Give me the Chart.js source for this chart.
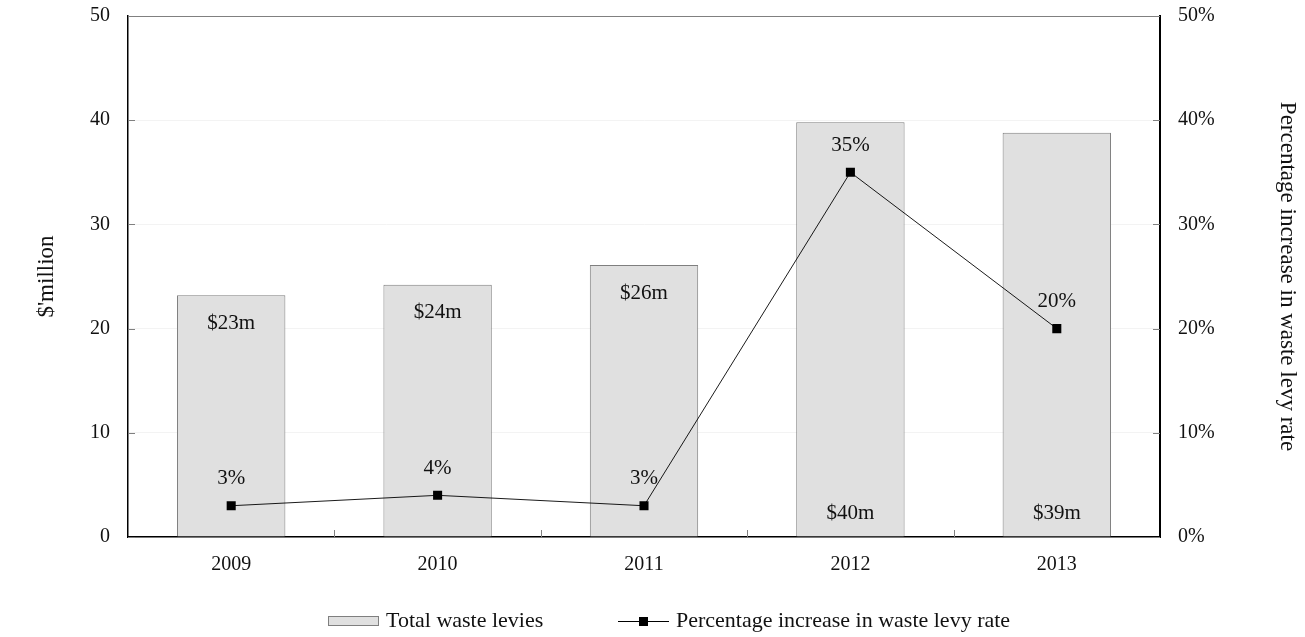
<!DOCTYPE html>
<html>
<head>
<meta charset="utf-8">
<script src="https://cdn.jsdelivr.net/npm/chart.js@4.4.0/dist/chart.umd.min.js"></script>
<style>
  html, body { margin: 0; padding: 0; background: #fff; }
  #wrap { width: 1305px; height: 637px; }
</style>
</head>
<body>
<div id="wrap"><canvas id="chart"></canvas></div>
<script>
// data
const years = ['2009', '2010', '2011', '2012', '2013'];
const wasteLevies = [23.2, 24.2, 26.1, 39.8, 38.8];      // $ million
const levyLabels = ['$23m', '$24m', '$26m', '$40m', '$39m'];
const rateIncrease = [3, 4, 3, 35, 20];                 // percent
const rateLabels = ['3%', '4%', '3%', '35%', '20%'];
const leftTicks = [0, 10, 20, 30, 40, 50];
const rightTicks = [0, 10, 20, 30, 40, 50];

// bar labels sit at the base where the line point would collide with them
const levyLabelAtBase = [false, false, false, true, true];

const FONT = '"Liberation Serif", "Times New Roman", serif';
const TICK_SIZE = 20;
const LABEL_SIZE = 21;
const LEGEND_SIZE = 22;
const TITLE_SIZE = 23;

// draws value labels, inward ticks, top border and the legend
const extrasPlugin = {
  id: 'extras',
  afterDatasetsDraw(chart) {
    const ctx = chart.ctx;
    const area = chart.chartArea;
    const yL = chart.scales.y;
    const yR = chart.scales.y2;
    const x = chart.scales.x;

    ctx.save();
    ctx.font = LABEL_SIZE + 'px ' + FONT;
    ctx.fillStyle = '#111';
    ctx.textAlign = 'center';
    ctx.textBaseline = 'middle';

    // bar labels
    chart.getDatasetMeta(0).data.forEach((bar, i) => {
      const y = levyLabelAtBase[i] ? yL.getPixelForValue(0) - 24 : bar.y + 28;
      ctx.fillText(levyLabels[i], bar.x, y);
    });
    // line labels
    chart.getDatasetMeta(1).data.forEach((pt, i) => {
      ctx.fillText(rateLabels[i], pt.x, pt.y - 27);
    });

    // inward tick marks
    ctx.strokeStyle = '#808080';
    ctx.lineWidth = 1;
    ctx.beginPath();
    leftTicks.forEach(v => {
      const py = Math.round(yL.getPixelForValue(v)) + 0.5;
      ctx.moveTo(area.left, py); ctx.lineTo(area.left + 7, py);
    });
    rightTicks.forEach(v => {
      const py = Math.round(yR.getPixelForValue(v)) + 0.5;
      ctx.moveTo(area.right - 7, py); ctx.lineTo(area.right, py);
    });
    for (let i = 1; i < years.length; i++) {
      const px = Math.round((x.getPixelForValue(i - 1) + x.getPixelForValue(i)) / 2) + 0.5;
      ctx.moveTo(px, area.bottom); ctx.lineTo(px, area.bottom - 7);
    }
    ctx.stroke();

    // top border
    ctx.beginPath();
    ctx.moveTo(area.left, area.top + 0.5);
    ctx.lineTo(area.right, area.top + 0.5);
    ctx.stroke();
    ctx.restore();
  },
  afterDraw(chart) {
    const ctx = chart.ctx;
    const ly = 621;
    ctx.save();
    ctx.font = LEGEND_SIZE + 'px ' + FONT;
    ctx.textBaseline = 'middle';
    ctx.textAlign = 'left';

    // bar entry
    let lx = 328;
    ctx.fillStyle = '#e0e0e0';
    ctx.fillRect(lx, ly - 5, 51, 10);
    ctx.strokeStyle = '#7f7f7f';
    ctx.lineWidth = 1;
    ctx.strokeRect(lx + 0.5, ly - 4.5, 50, 9);
    ctx.fillStyle = '#111';
    ctx.fillText(chart.data.datasets[0].label, lx + 58, ly);

    // line entry
    lx = 618;
    ctx.strokeStyle = '#000';
    ctx.beginPath();
    ctx.moveTo(lx, ly + 0.5); ctx.lineTo(lx + 51, ly + 0.5);
    ctx.stroke();
    ctx.fillStyle = '#000';
    ctx.fillRect(lx + 21, ly - 4, 9, 9);
    ctx.fillStyle = '#111';
    ctx.fillText(chart.data.datasets[1].label, lx + 58, ly);
    ctx.restore();
  }
};

// fixed box sizes so the plot area lands where the reference has it
function fitVertical(width) {
  return s => {
    s.width = width;
    s.paddingTop = 0;
    s.paddingBottom = 0;
  };
}

new Chart(document.getElementById('chart'), {
  data: {
    labels: years,
    datasets: [
      {
        type: 'bar',
        label: 'Total waste levies',
        data: wasteLevies,
        yAxisID: 'y',
        backgroundColor: '#e0e0e0',
        borderColor: '#7f7f7f',
        borderWidth: 1,
        categoryPercentage: 1,
        barPercentage: 0.525,
        order: 1
      },
      {
        type: 'line',
        label: 'Percentage increase in waste levy rate',
        data: rateIncrease,
        yAxisID: 'y2',
        borderColor: '#000',
        borderWidth: 0.9,
        pointStyle: 'rect',
        pointRadius: 6.4,
        pointBackgroundColor: '#000',
        pointBorderWidth: 0,
        tension: 0,
        order: 0
      }
    ]
  },
  options: {
    responsive: true,
    maintainAspectRatio: false,
    animation: false,
    layout: { padding: { top: 16, left: 0, right: 0, bottom: 62 } },
    plugins: {
      legend: { display: false },
      tooltip: { enabled: false }
    },
    scales: {
      x: {
        grid: { display: false, drawTicks: false },
        border: { color: '#000', width: 1.5 },
        ticks: { color: '#111', padding: 16, font: { family: FONT, size: TICK_SIZE } },
        afterFit: s => { s.height = 38; s.paddingLeft = 0; s.paddingRight = 0; }
      },
      y: {
        position: 'left',
        min: 0, max: 50,
        afterBuildTicks: s => { s.ticks = leftTicks.map(v => ({ value: v })); },
        grid: { color: '#f3f3f3', drawTicks: false },
        border: { color: '#000', width: 1.5 },
        ticks: { color: '#111', padding: 18, font: { family: FONT, size: TICK_SIZE } },
        title: {
          display: true, text: "$'million", color: '#111',
          font: { family: FONT, size: TITLE_SIZE },
          padding: { top: 33, bottom: 0 }
        },
        afterFit: fitVertical(128)
      },
      y2: {
        position: 'right',
        min: 0, max: 50,
        afterBuildTicks: s => { s.ticks = rightTicks.map(v => ({ value: v })); },
        grid: { display: false, drawTicks: false },
        border: { color: '#000', width: 2 },
        ticks: {
          color: '#111', padding: 18, font: { family: FONT, size: TICK_SIZE },
          callback: v => v + '%'
        },
        title: {
          display: true, text: 'Percentage increase in waste levy rate', color: '#111',
          font: { family: FONT, size: TITLE_SIZE },
          padding: { top: 4, bottom: 0 }
        },
        afterFit: fitVertical(145)
      }
    }
  },
  plugins: [extrasPlugin]
});
</script>
</body>
</html>
